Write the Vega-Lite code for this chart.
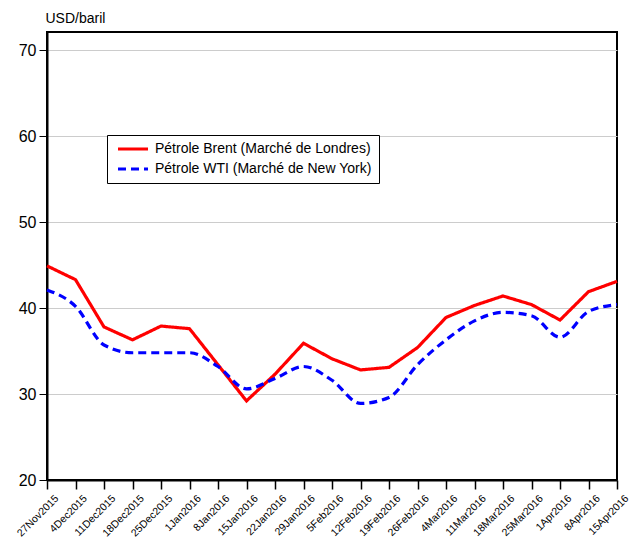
{
  "$schema": "https://vega.github.io/schema/vega-lite/v6.json",
  "width": 570,
  "height": 448,
  "autosize": "none",
  "padding": {"left": 47, "top": 32, "right": 27, "bottom": 64},
  "background": "white",
  "config": {
    "font": "Liberation Sans",
    "view": {"stroke": "black", "strokeWidth": 2}
  },
  "data": {
    "values": [
      {"date": "27Nov2015", "series": "Pétrole Brent (Marché de Londres)", "price": 44.9},
      {"date": "4Dec2015", "series": "Pétrole Brent (Marché de Londres)", "price": 43.3},
      {"date": "11Dec2015", "series": "Pétrole Brent (Marché de Londres)", "price": 37.8},
      {"date": "18Dec2015", "series": "Pétrole Brent (Marché de Londres)", "price": 36.3},
      {"date": "25Dec2015", "series": "Pétrole Brent (Marché de Londres)", "price": 37.9},
      {"date": "1Jan2016", "series": "Pétrole Brent (Marché de Londres)", "price": 37.6},
      {"date": "8Jan2016", "series": "Pétrole Brent (Marché de Londres)", "price": 33.4},
      {"date": "15Jan2016", "series": "Pétrole Brent (Marché de Londres)", "price": 29.2},
      {"date": "22Jan2016", "series": "Pétrole Brent (Marché de Londres)", "price": 32.3},
      {"date": "29Jan2016", "series": "Pétrole Brent (Marché de Londres)", "price": 35.9},
      {"date": "5Feb2016", "series": "Pétrole Brent (Marché de Londres)", "price": 34.1},
      {"date": "12Feb2016", "series": "Pétrole Brent (Marché de Londres)", "price": 32.8},
      {"date": "19Feb2016", "series": "Pétrole Brent (Marché de Londres)", "price": 33.1},
      {"date": "26Feb2016", "series": "Pétrole Brent (Marché de Londres)", "price": 35.4},
      {"date": "4Mar2016", "series": "Pétrole Brent (Marché de Londres)", "price": 38.9},
      {"date": "11Mar2016", "series": "Pétrole Brent (Marché de Londres)", "price": 40.3},
      {"date": "18Mar2016", "series": "Pétrole Brent (Marché de Londres)", "price": 41.4},
      {"date": "25Mar2016", "series": "Pétrole Brent (Marché de Londres)", "price": 40.4},
      {"date": "1Apr2016", "series": "Pétrole Brent (Marché de Londres)", "price": 38.6},
      {"date": "8Apr2016", "series": "Pétrole Brent (Marché de Londres)", "price": 41.9},
      {"date": "15Apr2016", "series": "Pétrole Brent (Marché de Londres)", "price": 43.1},
      {"date": "27Nov2015", "series": "Pétrole WTI (Marché de New York)", "price": 42.1},
      {"date": "4Dec2015", "series": "Pétrole WTI (Marché de New York)", "price": 40.2},
      {"date": "11Dec2015", "series": "Pétrole WTI (Marché de New York)", "price": 35.7},
      {"date": "18Dec2015", "series": "Pétrole WTI (Marché de New York)", "price": 34.8},
      {"date": "25Dec2015", "series": "Pétrole WTI (Marché de New York)", "price": 34.8},
      {"date": "1Jan2016", "series": "Pétrole WTI (Marché de New York)", "price": 34.8},
      {"date": "8Jan2016", "series": "Pétrole WTI (Marché de New York)", "price": 33.2},
      {"date": "15Jan2016", "series": "Pétrole WTI (Marché de New York)", "price": 30.6},
      {"date": "22Jan2016", "series": "Pétrole WTI (Marché de New York)", "price": 31.8},
      {"date": "29Jan2016", "series": "Pétrole WTI (Marché de New York)", "price": 33.2},
      {"date": "5Feb2016", "series": "Pétrole WTI (Marché de New York)", "price": 31.6},
      {"date": "12Feb2016", "series": "Pétrole WTI (Marché de New York)", "price": 28.9},
      {"date": "19Feb2016", "series": "Pétrole WTI (Marché de New York)", "price": 29.6},
      {"date": "26Feb2016", "series": "Pétrole WTI (Marché de New York)", "price": 33.4},
      {"date": "4Mar2016", "series": "Pétrole WTI (Marché de New York)", "price": 36.3},
      {"date": "11Mar2016", "series": "Pétrole WTI (Marché de New York)", "price": 38.5},
      {"date": "18Mar2016", "series": "Pétrole WTI (Marché de New York)", "price": 39.5},
      {"date": "25Mar2016", "series": "Pétrole WTI (Marché de New York)", "price": 39.1},
      {"date": "1Apr2016", "series": "Pétrole WTI (Marché de New York)", "price": 36.6},
      {"date": "8Apr2016", "series": "Pétrole WTI (Marché de New York)", "price": 39.6},
      {"date": "15Apr2016", "series": "Pétrole WTI (Marché de New York)", "price": 40.4}
    ]
  },
  "encoding": {
    "x": {
      "field": "date",
      "type": "ordinal",
      "sort": null,
      "scale": {"type": "point", "padding": 0},
      "axis": {
        "title": null,
        "domain": true,
        "domainColor": "black",
        "domainWidth": 2,
        "ticks": true,
        "tickColor": "black",
        "tickWidth": 1.5,
        "tickSize": 9,
        "labelAngle": -45,
        "labelFontSize": 10.5,
        "labelColor": "black",
        "labelPadding": 4,
        "labelOffset": 6,
        "grid": false
      }
    },
    "y": {
      "field": "price",
      "type": "quantitative",
      "scale": {"domain": [20, 72.1], "nice": false, "zero": false},
      "axis": {
        "values": [20, 30, 40, 50, 60, 70],
        "title": "USD/baril",
        "titleAngle": 0,
        "titleAlign": "left",
        "titleBaseline": "alphabetic",
        "titleX": -2,
        "titleY": -10,
        "titleFontSize": 14,
        "titleFontWeight": "normal",
        "titleColor": "black",
        "labelFontSize": 16,
        "labelColor": "black",
        "labelPadding": 3,
        "tickColor": "black",
        "tickSize": 8,
        "domainColor": "black",
        "domainWidth": 2,
        "grid": true,
        "gridColor": "#cccccc",
        "gridWidth": 1
      }
    },
    "color": {
      "field": "series",
      "type": "nominal",
      "scale": {"domain": ["Pétrole Brent (Marché de Londres)", "Pétrole WTI (Marché de New York)"], "range": ["#ff0000", "#0000ff"]},
      "legend": {
        "title": null,
        "orient": "none",
        "legendX": 60,
        "legendY": 103,
        "direction": "vertical",
        "strokeColor": "black",
        "fillColor": "white",
        "padding": 7,
        "symbolType": "M-0.6,0H5.4",
        "symbolSize": 100,
        "symbolStrokeWidth": 3.2,
        "labelFontSize": 14,
        "labelLimit": 0,
        "labelColor": "black",
        "labelOffset": 27,
        "rowPadding": 6
      }
    },
    "strokeDash": {
      "field": "series",
      "type": "nominal",
      "scale": {"domain": ["Pétrole Brent (Marché de Londres)", "Pétrole WTI (Marché de New York)"], "range": [[1, 0], [8, 5]]},
      "legend": {
        "title": null,
        "orient": "none",
        "legendX": 60,
        "legendY": 103,
        "direction": "vertical",
        "strokeColor": "black",
        "fillColor": "white",
        "padding": 7,
        "symbolType": "M-0.6,0H5.4",
        "symbolSize": 100,
        "symbolStrokeWidth": 3.2,
        "labelFontSize": 14,
        "labelLimit": 0,
        "labelColor": "black",
        "labelOffset": 27,
        "rowPadding": 6
      }
    }
  },
  "layer": [
    {
      "transform": [{"filter": "datum.series === 'Pétrole Brent (Marché de Londres)'"}],
      "mark": {"type": "line", "strokeWidth": 3.2}
    },
    {
      "transform": [{"filter": "datum.series === 'Pétrole WTI (Marché de New York)'"}],
      "mark": {"type": "line", "strokeWidth": 3.2, "interpolate": "monotone"}
    }
  ]
}
